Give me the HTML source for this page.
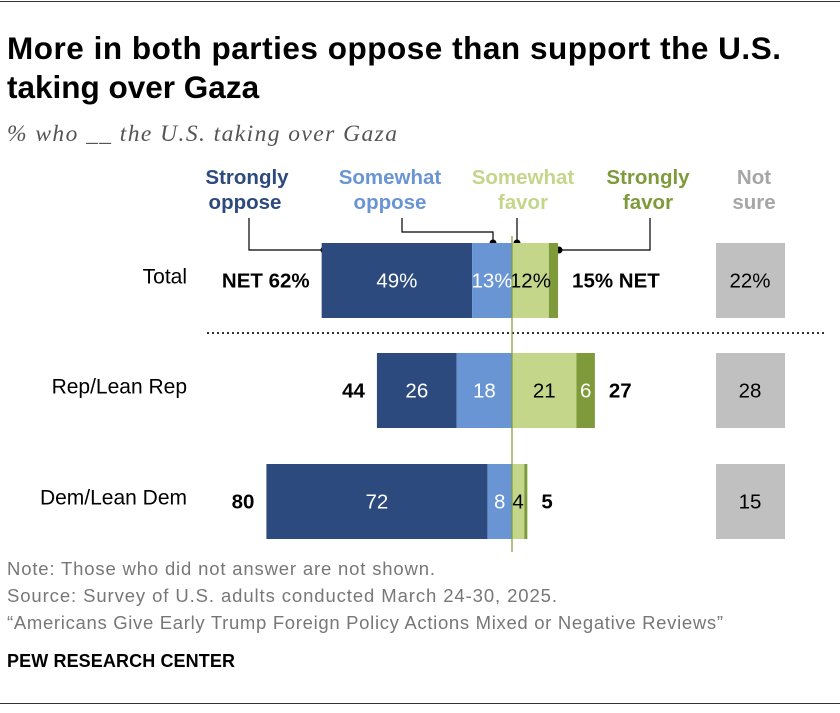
<!DOCTYPE html>
<html><head><meta charset="utf-8"><style>
body{margin:0;background:#fff;width:840px;height:708px;overflow:hidden;font-family:"Liberation Sans",sans-serif;}
</style></head><body>
<svg width="840" height="708" xmlns="http://www.w3.org/2000/svg" id="chart" font-family="Liberation Sans, sans-serif">
<line x1="0" y1="1.5" x2="840" y2="1.5" stroke="#333" stroke-width="1"/>
<text x="7" y="59" font-size="31.5" font-weight="bold" fill="#000" textLength="774">More in both parties oppose than support the U.S.</text>
<text x="7" y="98" font-size="31.5" font-weight="bold" fill="#000">taking over Gaza</text>
<text x="7" y="141" font-size="23.5" font-style="italic" font-family="Liberation Serif, serif" fill="#555" textLength="390">% who __ the U.S. taking over Gaza</text>
<g font-size="20.5" font-weight="bold" text-anchor="middle">
<text x="247" y="184" fill="#2c4a7e"><tspan x="247">Strongly</tspan><tspan x="245" dy="25">oppose</tspan></text>
<text x="390" y="184" fill="#6a95d4"><tspan x="390">Somewhat</tspan><tspan x="390" dy="25">oppose</tspan></text>
<text x="523" y="184" fill="#c3d68a"><tspan x="523">Somewhat</tspan><tspan x="523" dy="25">favor</tspan></text>
<text x="648" y="184" fill="#7e9a3a"><tspan x="648">Strongly</tspan><tspan x="648" dy="25">favor</tspan></text>
<text x="754" y="184" fill="#a6a6a6"><tspan x="754">Not</tspan><tspan x="754" dy="25">sure</tspan></text>
</g>
<g fill="none" stroke="#000" stroke-width="1.2">
<polyline points="249,218 249,250 324,250"/>
<polyline points="402,218 402,232 493,232 493,243"/>
<polyline points="517,218 517,243"/>
<polyline points="650,218 650,250 559,250"/>
</g>
<g fill="#000"><circle cx="324" cy="250" r="3.5"/><circle cx="493" cy="243" r="3.5"/><circle cx="517" cy="243" r="3.5"/><circle cx="559" cy="250" r="3.5"/></g>
<line x1="207" y1="333" x2="826" y2="333" stroke="#333" stroke-width="2" stroke-dasharray="2,3"/>
<g id="bars"></g>
<g font-size="18.5" fill="#777">
<text x="7" y="575" textLength="428">Note: Those who did not answer are not shown.</text>
<text x="7" y="602" textLength="550">Source: Survey of U.S. adults conducted March 24-30, 2025.</text>
<text x="7" y="629" textLength="716">“Americans Give Early Trump Foreign Policy Actions Mixed or Negative Reviews”</text>
</g>
<text x="7" y="667" font-size="18" font-weight="bold" fill="#000" textLength="228">PEW RESEARCH CENTER</text>
<line x1="0" y1="703.5" x2="840" y2="703.5" stroke="#333" stroke-width="1"/>
</svg>
<script>
const categories=["Total","Rep/Lean Rep","Dem/Lean Dem"];
const stronglyOppose=[49,26,72];
const somewhatOppose=[13,18,8];
const somewhatFavor=[12,21,4];
const stronglyFavor=[3,6,1];
const netOppose=[62,44,80];
const netFavor=[15,27,5];
const notSure=[22,28,15];
const NS="http://www.w3.org/2000/svg";
const g=document.getElementById('bars');
const cx=512, k=3.07, rowY=[243,353,464], bh=75;
const xs=v=>cx+v*k;
function rect(x,y,w,h,fill,name){const r=document.createElementNS(NS,'rect');r.setAttribute('x',x);r.setAttribute('y',y);r.setAttribute('width',Math.max(w,0));r.setAttribute('height',h);r.setAttribute('fill',fill);


g.appendChild(r);return r;}
function text(x,y,s,opt,name){const t=document.createElementNS(NS,'text');t.setAttribute('x',x);t.setAttribute('y',y);t.textContent=s;t.setAttribute('font-size',opt.s||'20.5');t.setAttribute('text-anchor',opt.a||'middle');t.setAttribute('fill',opt.f||'#000');if(opt.b)t.setAttribute('font-weight','bold');


g.appendChild(t);}
categories.forEach((c,i)=>{
 const y=rowY[i], ty=y+bh/2+7, p=i==0?'%':'';
 const so=stronglyOppose[i], mo=somewhatOppose[i], mf=somewhatFavor[i], sf=stronglyFavor[i];
 rect(xs(-(so+mo)),y,so*k,bh,'#2c4a7e','bar-strongly-oppose');
 rect(xs(-mo),y,mo*k,bh,'#6a95d4','bar-somewhat-oppose');
 rect(xs(0),y,mf*k,bh,'#c3d68a','bar-somewhat-favor');
 rect(xs(mf),y,sf*k,bh,'#7e9a3a','bar-strongly-favor');
 text(xs(-(so+mo)+so/2),ty,so+p,{f:'#fff'},'label-strongly-oppose');
 text(xs(-mo/2),ty,mo+p,{f:'#fff'},'label-somewhat-oppose');
 text(xs(mf/2),ty,mf+p,{},'label-somewhat-favor');
 if(sf>=5) text(xs(mf+sf/2),ty,sf+p,{f:'#fff'},'label-strongly-favor');
 text(187,ty-4,c,{a:'end',s:'21'},'category-label');
 const lo=xs(-(so+mo))-12, hi=xs(mf+sf)+14;
 text(lo,ty,i==0?'NET '+netOppose[i]+'%':netOppose[i],{a:'end',b:1},'net-oppose');
 text(hi,ty,i==0?netFavor[i]+'% NET':netFavor[i],{a:'start',b:1},'net-favor');
 rect(716,y,69,bh,'#c0c0c0','bar-not-sure');
 text(750,ty,notSure[i]+p,{},'label-not-sure');
});
const ln=document.createElementNS(NS,'line');
ln.setAttribute('x1',cx);ln.setAttribute('x2',cx);ln.setAttribute('y1',236);ln.setAttribute('y2',552);ln.setAttribute('stroke','#7e9a3a');ln.setAttribute('stroke-width','1.2');


g.appendChild(ln);
</script>
</body></html>
